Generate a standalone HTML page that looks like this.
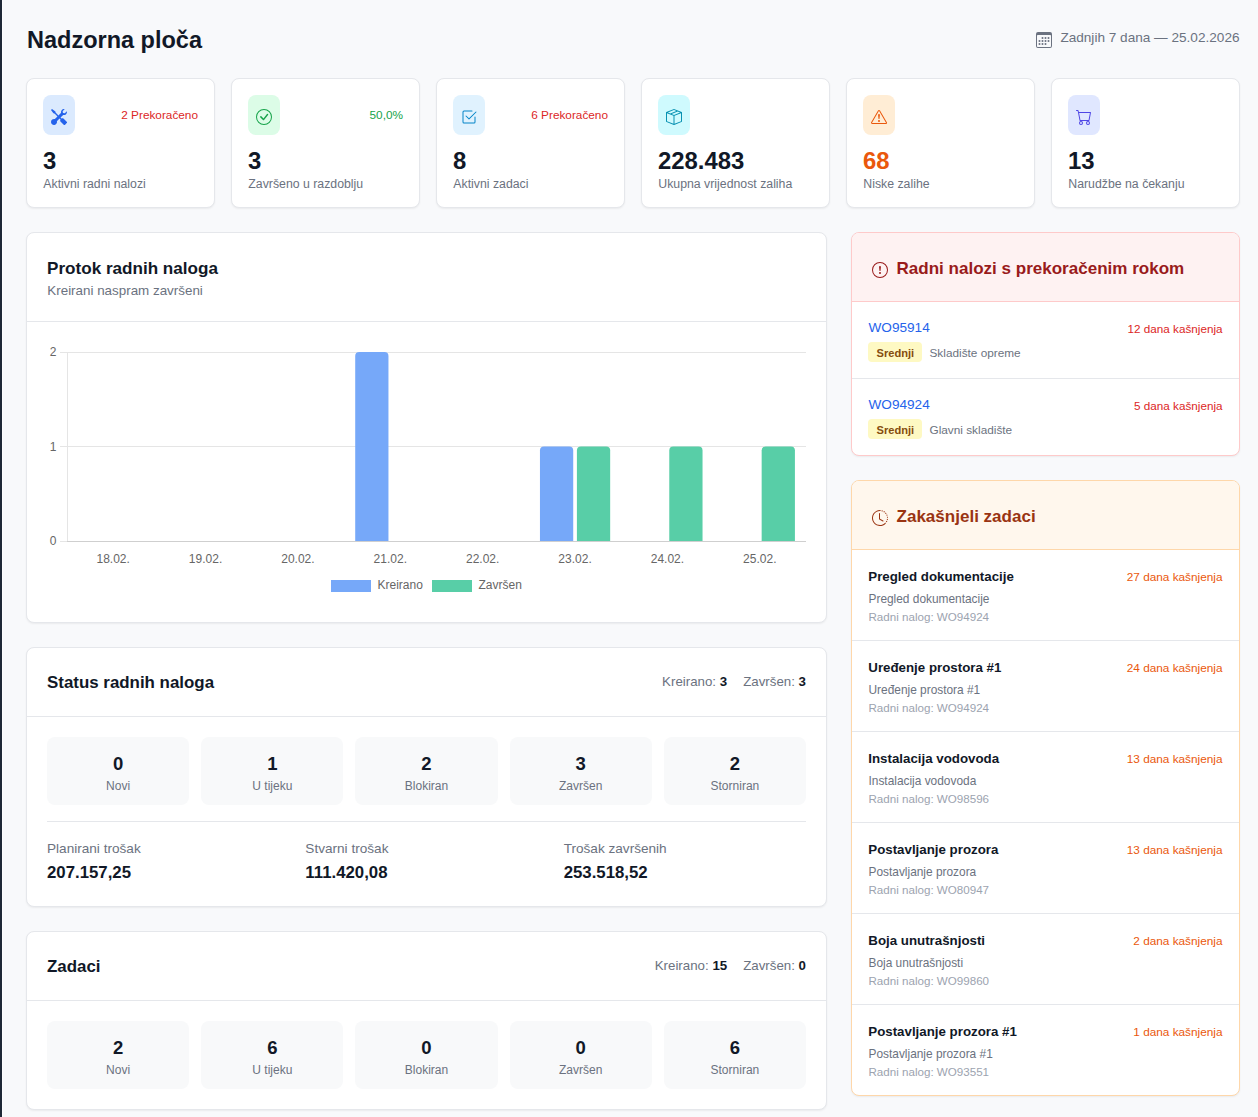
<!DOCTYPE html>
<html lang="hr">
<head>
<meta charset="utf-8">
<title>Nadzorna ploča</title>
<style>
*{box-sizing:border-box;margin:0;padding:0}
html,body{width:1258px;height:1117px;overflow:hidden}
body{background:#f8f9fb;font-family:"Liberation Sans",sans-serif;color:#111827;position:relative}
.abs{position:absolute}
.t{position:absolute;line-height:1;white-space:nowrap}
.card{position:absolute;background:#fff;border:1px solid #e5e7eb;border-radius:8px;box-shadow:0 1px 2px rgba(0,0,0,.06)}
</style>
</head>
<body>
<div class="abs" style="left:0;top:0;width:2px;height:1117px;background:#1e2836"></div>
<div class="abs" style="left:2px;top:0;width:1px;height:1117px;background:#fdfdfe"></div>
<div class="t" style="left:27.00px;top:29.11px;font-size:23.5px;font-weight:700;color:#111827;">Nadzorna ploča</div>
<svg class="abs" style="left:1036px;top:32px" width="16" height="16" viewBox="0 0 16 16" fill="#6b7280"><path d="M14 0H2a2 2 0 0 0-2 2v12a2 2 0 0 0 2 2h12a2 2 0 0 0 2-2V2a2 2 0 0 0-2-2M1 3.857C1 3.384 1.448 3 2 3h12c.552 0 1 .384 1 .857v10.286c0 .473-.448.857-1 .857H2c-.552 0-1-.384-1-.857z"/><path d="M6.5 7a1 1 0 1 0 0-2 1 1 0 0 0 0 2m3 0a1 1 0 1 0 0-2 1 1 0 0 0 0 2m3 0a1 1 0 1 0 0-2 1 1 0 0 0 0 2m-9 3a1 1 0 1 0 0-2 1 1 0 0 0 0 2m3 0a1 1 0 1 0 0-2 1 1 0 0 0 0 2m3 0a1 1 0 1 0 0-2 1 1 0 0 0 0 2m3 0a1 1 0 1 0 0-2 1 1 0 0 0 0 2m-9 3a1 1 0 1 0 0-2 1 1 0 0 0 0 2m3 0a1 1 0 1 0 0-2 1 1 0 0 0 0 2m3 0a1 1 0 1 0 0-2 1 1 0 0 0 0 2"/></svg>
<div class="t" style="right:18.50px;top:31.09px;font-size:13.6px;color:#6b7280;">Zadnjih 7 dana — 25.02.2026</div>
<div class="card" style="left:26px;top:78px;width:189px;height:130px"></div>
<div class="abs" style="left:43px;top:95px;width:32px;height:40px;border-radius:8px;background:#dbeafe"></div>
<svg class="abs" style="left:51px;top:109px" width="16" height="16" viewBox="0 0 16 16" fill="#2563eb"><path d="M1 0 0 1l2.2 3.081a1 1 0 0 0 .815.419h.07a1 1 0 0 1 .708.293l2.675 2.675-2.617 2.654A3.003 3.003 0 0 0 0 13a3 3 0 1 0 5.878-.851l2.654-2.617.968.968-.305.914a1 1 0 0 0 .242 1.023l3.27 3.27a.997.997 0 0 0 1.414 0l1.586-1.586a.997.997 0 0 0 0-1.414l-3.27-3.27a1 1 0 0 0-1.023-.242L10.5 9.5l-.96-.96 2.68-2.643A3.005 3.005 0 0 0 16 3q0-.405-.102-.777l-2.14 2.141L12 4l-.364-1.757L13.777.102a3 3 0 0 0-3.675 3.68L7.462 6.46 4.793 3.793a1 1 0 0 1-.293-.707v-.071a1 1 0 0 0-.419-.814z"/></svg>
<div class="t" style="right:1060.00px;top:110.21px;font-size:11.8px;color:#dc2626;">2 Prekoračeno</div>
<div class="t" style="left:43.00px;top:148.57px;font-size:23.9px;font-weight:700;color:#111827;">3</div>
<div class="t" style="left:43.30px;top:177.89px;font-size:12.3px;color:#6b7280;">Aktivni radni nalozi</div>
<div class="card" style="left:231px;top:78px;width:189px;height:130px"></div>
<div class="abs" style="left:248px;top:95px;width:32px;height:40px;border-radius:8px;background:#dcfce7"></div>
<svg class="abs" style="left:256px;top:109px" width="16" height="16" viewBox="0 0 16 16" fill="#16a34a"><path d="M8 15A7 7 0 1 1 8 1a7 7 0 0 1 0 14m0 1A8 8 0 1 0 8 0a8 8 0 0 0 0 16"/><path d="m10.97 4.97-.02.022-3.473 4.425-2.093-2.094a.75.75 0 0 0-1.06 1.06L6.97 11.03a.75.75 0 0 0 1.079-.02l3.992-4.99a.75.75 0 0 0-1.071-1.05"/></svg>
<div class="t" style="right:855.00px;top:110.21px;font-size:11.8px;color:#16a34a;">50,0%</div>
<div class="t" style="left:248.00px;top:148.57px;font-size:23.9px;font-weight:700;color:#111827;">3</div>
<div class="t" style="left:248.30px;top:177.89px;font-size:12.3px;color:#6b7280;">Završeno u razdoblju</div>
<div class="card" style="left:436px;top:78px;width:189px;height:130px"></div>
<div class="abs" style="left:453px;top:95px;width:32px;height:40px;border-radius:8px;background:#e0f2fe"></div>
<svg class="abs" style="left:461px;top:109px" width="16" height="16" viewBox="0 0 16 16" fill="#0284c7"><path d="M3 14.5A1.5 1.5 0 0 1 1.5 13V3A1.5 1.5 0 0 1 3 1.5h8a.5.5 0 0 1 0 1H3a.5.5 0 0 0-.5.5v10a.5.5 0 0 0 .5.5h10a.5.5 0 0 0 .5-.5V8a.5.5 0 0 1 1 0v5a1.5 1.5 0 0 1-1.5 1.5z"/><path d="m8.354 10.354 7-7a.5.5 0 0 0-.708-.708L8 9.293 5.354 6.646a.5.5 0 1 0-.708.708l3 3a.5.5 0 0 0 .708 0"/></svg>
<div class="t" style="right:650.00px;top:110.21px;font-size:11.8px;color:#dc2626;">6 Prekoračeno</div>
<div class="t" style="left:453.00px;top:148.57px;font-size:23.9px;font-weight:700;color:#111827;">8</div>
<div class="t" style="left:453.30px;top:177.89px;font-size:12.3px;color:#6b7280;">Aktivni zadaci</div>
<div class="card" style="left:641px;top:78px;width:189px;height:130px"></div>
<div class="abs" style="left:658px;top:95px;width:32px;height:40px;border-radius:8px;background:#cffafe"></div>
<svg class="abs" style="left:666px;top:109px" width="16" height="16" viewBox="0 0 16 16" fill="#0891b2"><path d="M8.186 1.113a.5.5 0 0 0-.372 0L1.846 3.5l2.404.961L10.404 2zm3.564 1.426L5.596 5 8 5.961 14.154 3.5zm3.25 1.7-6.5 2.6v7.922l6.5-2.6V4.24zM7.5 14.762V6.838L1 4.239v7.923zM7.443.184a1.5 1.5 0 0 1 1.114 0l7.129 2.852A.5.5 0 0 1 16 3.5v8.662a1 1 0 0 1-.629.928l-7.185 2.874a.5.5 0 0 1-.372 0L.63 13.09a1 1 0 0 1-.63-.928V3.5a.5.5 0 0 1 .314-.464z"/></svg>
<div class="t" style="left:658.00px;top:148.57px;font-size:23.9px;font-weight:700;color:#111827;">228.483</div>
<div class="t" style="left:658.30px;top:177.89px;font-size:12.3px;color:#6b7280;">Ukupna vrijednost zaliha</div>
<div class="card" style="left:846px;top:78px;width:189px;height:130px"></div>
<div class="abs" style="left:863px;top:95px;width:32px;height:40px;border-radius:8px;background:#ffedd5"></div>
<svg class="abs" style="left:871px;top:109px" width="16" height="16" viewBox="0 0 16 16" fill="#ea580c"><path d="M7.938 2.016A.13.13 0 0 1 8.002 2a.13.13 0 0 1 .063.016.15.15 0 0 1 .054.057l6.857 11.667c.036.06.035.124.002.183a.2.2 0 0 1-.054.06.1.1 0 0 1-.066.017H1.146a.1.1 0 0 1-.066-.017.2.2 0 0 1-.054-.06.18.18 0 0 1 .002-.183L7.884 2.073a.15.15 0 0 1 .054-.057m1.044-.45a1.13 1.13 0 0 0-1.96 0L.165 13.233c-.457.778.091 1.767.98 1.767h13.713c.889 0 1.438-.99.98-1.767z"/><path d="M7.002 12a1 1 0 1 1 2 0 1 1 0 0 1-2 0M7.1 5.995a.905.905 0 1 1 1.8 0l-.35 3.507a.552.552 0 0 1-1.1 0z"/></svg>
<div class="t" style="left:863.00px;top:148.57px;font-size:23.9px;font-weight:700;color:#ea580c;">68</div>
<div class="t" style="left:863.30px;top:177.89px;font-size:12.3px;color:#6b7280;">Niske zalihe</div>
<div class="card" style="left:1051px;top:78px;width:189px;height:130px"></div>
<div class="abs" style="left:1068px;top:95px;width:32px;height:40px;border-radius:8px;background:#e0e7ff"></div>
<svg class="abs" style="left:1076px;top:109px" width="16" height="16" viewBox="0 0 16 16" fill="#4f46e5"><path d="M0 1.5A.5.5 0 0 1 .5 1H2a.5.5 0 0 1 .485.379L2.89 3H14.5a.5.5 0 0 1 .491.592l-1.5 8A.5.5 0 0 1 13 12H4a.5.5 0 0 1-.491-.408L2.01 3.607 1.61 2H.5a.5.5 0 0 1-.5-.5M3.102 4l1.313 7h8.17l1.313-7zM5 12a2 2 0 1 0 0 4 2 2 0 0 0 0-4m7 0a2 2 0 1 0 0 4 2 2 0 0 0 0-4m-7 1a1 1 0 1 1 0 2 1 1 0 0 1 0-2m7 0a1 1 0 1 1 0 2 1 1 0 0 1 0-2"/></svg>
<div class="t" style="left:1068.00px;top:148.57px;font-size:23.9px;font-weight:700;color:#111827;">13</div>
<div class="t" style="left:1068.30px;top:177.89px;font-size:12.3px;color:#6b7280;">Narudžbe na čekanju</div>
<div class="card" style="left:26px;top:232px;width:801px;height:391px"></div>
<div class="abs" style="left:27px;top:321px;width:799px;height:1px;background:#e5e7eb"></div>
<div class="t" style="left:47.00px;top:259.82px;font-size:17.1px;font-weight:700;color:#111827;">Protok radnih naloga</div>
<div class="t" style="left:47.30px;top:284.26px;font-size:13.4px;color:#6b7280;">Kreirani naspram završeni</div>
<svg class="abs" style="left:0;top:0;font-family:'Liberation Sans',sans-serif" width="1258" height="1117"><line x1="60" y1="352.5" x2="806" y2="352.5" stroke="#e5e5e5" stroke-width="1"/><line x1="60" y1="446.5" x2="806" y2="446.5" stroke="#e5e5e5" stroke-width="1"/><line x1="60" y1="541.5" x2="67" y2="541.5" stroke="#e5e5e5" stroke-width="1"/><line x1="67" y1="541.5" x2="806" y2="541.5" stroke="#cfcfcf" stroke-width="1"/><line x1="67.5" y1="352" x2="67.5" y2="541" stroke="#e5e5e5" stroke-width="1"/><text x="56.5" y="356.3" text-anchor="end" font-size="12" fill="#666">2</text><text x="56.5" y="450.8" text-anchor="end" font-size="12" fill="#666">1</text><text x="56.5" y="545.3" text-anchor="end" font-size="12" fill="#666">0</text><text x="113.19" y="563" text-anchor="middle" font-size="12" fill="#666">18.02.</text><text x="205.56" y="563" text-anchor="middle" font-size="12" fill="#666">19.02.</text><text x="297.94" y="563" text-anchor="middle" font-size="12" fill="#666">20.02.</text><text x="390.31" y="563" text-anchor="middle" font-size="12" fill="#666">21.02.</text><text x="482.69" y="563" text-anchor="middle" font-size="12" fill="#666">22.02.</text><text x="575.06" y="563" text-anchor="middle" font-size="12" fill="#666">23.02.</text><text x="667.44" y="563" text-anchor="middle" font-size="12" fill="#666">24.02.</text><text x="759.81" y="563" text-anchor="middle" font-size="12" fill="#666">25.02.</text><path d="M355.21 541 L355.21 356.0 Q355.21 352.0 359.21 352.0 L384.46 352.0 Q388.46 352.0 388.46 356.0 L388.46 541 Z" fill="#76a8f9"/><path d="M539.96 541 L539.96 450.5 Q539.96 446.5 543.96 446.5 L569.22 446.5 Q573.22 446.5 573.22 450.5 L573.22 541 Z" fill="#76a8f9"/><path d="M576.91 541 L576.91 450.5 Q576.91 446.5 580.91 446.5 L606.17 446.5 Q610.17 446.5 610.17 450.5 L610.17 541 Z" fill="#58cea7"/><path d="M669.28 541 L669.28 450.5 Q669.28 446.5 673.28 446.5 L698.54 446.5 Q702.54 446.5 702.54 450.5 L702.54 541 Z" fill="#58cea7"/><path d="M761.66 541 L761.66 450.5 Q761.66 446.5 765.66 446.5 L790.92 446.5 Q794.92 446.5 794.92 450.5 L794.92 541 Z" fill="#58cea7"/><rect x="331" y="580" width="40" height="12" fill="#76a8f9"/><text x="377.5" y="589" font-size="12" fill="#666">Kreirano</text><rect x="432" y="580" width="40" height="12" fill="#58cea7"/><text x="478.5" y="589" font-size="12" fill="#666">Završen</text></svg>
<div class="card" style="left:26px;top:647px;width:801px;height:260px"></div>
<div class="abs" style="left:27px;top:716px;width:799px;height:1px;background:#e5e7eb"></div>
<div class="t" style="left:47.00px;top:675.49px;font-size:16.9px;font-weight:700;color:#111827;">Status radnih naloga</div>
<div class="t" style="right:452px;top:675.19px;font-size:13.3px;color:#6b7280">Kreirano: <b style="color:#111827">3</b><span style="display:inline-block;width:16px"></span>Završen: <b style="color:#111827">3</b></div>
<div class="abs" style="left:47.00px;top:737px;width:142.20px;height:68px;border-radius:8px;background:#f8f9fa"></div>
<div class="t" style="left:-181.90px;width:600px;text-align:center;top:754.84px;font-size:18.5px;font-weight:700;color:#111827;">0</div>
<div class="t" style="left:-181.90px;width:600px;text-align:center;top:779.84px;font-size:12px;color:#6b7280;">Novi</div>
<div class="abs" style="left:201.20px;top:737px;width:142.20px;height:68px;border-radius:8px;background:#f8f9fa"></div>
<div class="t" style="left:-27.70px;width:600px;text-align:center;top:754.84px;font-size:18.5px;font-weight:700;color:#111827;">1</div>
<div class="t" style="left:-27.70px;width:600px;text-align:center;top:779.84px;font-size:12px;color:#6b7280;">U tijeku</div>
<div class="abs" style="left:355.40px;top:737px;width:142.20px;height:68px;border-radius:8px;background:#f8f9fa"></div>
<div class="t" style="left:126.50px;width:600px;text-align:center;top:754.84px;font-size:18.5px;font-weight:700;color:#111827;">2</div>
<div class="t" style="left:126.50px;width:600px;text-align:center;top:779.84px;font-size:12px;color:#6b7280;">Blokiran</div>
<div class="abs" style="left:509.60px;top:737px;width:142.20px;height:68px;border-radius:8px;background:#f8f9fa"></div>
<div class="t" style="left:280.70px;width:600px;text-align:center;top:754.84px;font-size:18.5px;font-weight:700;color:#111827;">3</div>
<div class="t" style="left:280.70px;width:600px;text-align:center;top:779.84px;font-size:12px;color:#6b7280;">Završen</div>
<div class="abs" style="left:663.80px;top:737px;width:142.20px;height:68px;border-radius:8px;background:#f8f9fa"></div>
<div class="t" style="left:434.90px;width:600px;text-align:center;top:754.84px;font-size:18.5px;font-weight:700;color:#111827;">2</div>
<div class="t" style="left:434.90px;width:600px;text-align:center;top:779.84px;font-size:12px;color:#6b7280;">Storniran</div>
<div class="abs" style="left:47px;top:821px;width:759px;height:1px;background:#e5e7eb"></div>
<div class="t" style="left:47.00px;top:841.99px;font-size:13.6px;color:#6b7280;">Planirani trošak</div>
<div class="t" style="left:47.00px;top:865.28px;font-size:16.8px;font-weight:700;color:#111827;">207.157,25</div>
<div class="t" style="left:305.33px;top:841.99px;font-size:13.6px;color:#6b7280;">Stvarni trošak</div>
<div class="t" style="left:305.33px;top:865.28px;font-size:16.8px;font-weight:700;color:#111827;">111.420,08</div>
<div class="t" style="left:563.67px;top:841.99px;font-size:13.6px;color:#6b7280;">Trošak završenih</div>
<div class="t" style="left:563.67px;top:865.28px;font-size:16.8px;font-weight:700;color:#111827;">253.518,52</div>
<div class="card" style="left:26px;top:931px;width:801px;height:179px"></div>
<div class="abs" style="left:27px;top:1000px;width:799px;height:1px;background:#e5e7eb"></div>
<div class="t" style="left:47.00px;top:959.49px;font-size:16.9px;font-weight:700;color:#111827;">Zadaci</div>
<div class="t" style="right:452px;top:959.19px;font-size:13.3px;color:#6b7280">Kreirano: <b style="color:#111827">15</b><span style="display:inline-block;width:16px"></span>Završen: <b style="color:#111827">0</b></div>
<div class="abs" style="left:47.00px;top:1021px;width:142.20px;height:68px;border-radius:8px;background:#f8f9fa"></div>
<div class="t" style="left:-181.90px;width:600px;text-align:center;top:1038.84px;font-size:18.5px;font-weight:700;color:#111827;">2</div>
<div class="t" style="left:-181.90px;width:600px;text-align:center;top:1063.84px;font-size:12px;color:#6b7280;">Novi</div>
<div class="abs" style="left:201.20px;top:1021px;width:142.20px;height:68px;border-radius:8px;background:#f8f9fa"></div>
<div class="t" style="left:-27.70px;width:600px;text-align:center;top:1038.84px;font-size:18.5px;font-weight:700;color:#111827;">6</div>
<div class="t" style="left:-27.70px;width:600px;text-align:center;top:1063.84px;font-size:12px;color:#6b7280;">U tijeku</div>
<div class="abs" style="left:355.40px;top:1021px;width:142.20px;height:68px;border-radius:8px;background:#f8f9fa"></div>
<div class="t" style="left:126.50px;width:600px;text-align:center;top:1038.84px;font-size:18.5px;font-weight:700;color:#111827;">0</div>
<div class="t" style="left:126.50px;width:600px;text-align:center;top:1063.84px;font-size:12px;color:#6b7280;">Blokiran</div>
<div class="abs" style="left:509.60px;top:1021px;width:142.20px;height:68px;border-radius:8px;background:#f8f9fa"></div>
<div class="t" style="left:280.70px;width:600px;text-align:center;top:1038.84px;font-size:18.5px;font-weight:700;color:#111827;">0</div>
<div class="t" style="left:280.70px;width:600px;text-align:center;top:1063.84px;font-size:12px;color:#6b7280;">Završen</div>
<div class="abs" style="left:663.80px;top:1021px;width:142.20px;height:68px;border-radius:8px;background:#f8f9fa"></div>
<div class="t" style="left:434.90px;width:600px;text-align:center;top:1038.84px;font-size:18.5px;font-weight:700;color:#111827;">6</div>
<div class="t" style="left:434.90px;width:600px;text-align:center;top:1063.84px;font-size:12px;color:#6b7280;">Storniran</div>
<div class="abs" style="left:851px;top:232px;width:389px;height:224px;background:#fff;border:1px solid #fecaca;border-radius:8px;box-shadow:0 1px 2px rgba(0,0,0,.06);overflow:hidden"><div style="height:69px;background:#fef2f2;border-bottom:1px solid #fecaca"></div></div>
<svg class="abs" style="left:872px;top:262px" width="16" height="16" viewBox="0 0 16 16" fill="#991b1b"><path d="M8 15A7 7 0 1 1 8 1a7 7 0 0 1 0 14m0 1A8 8 0 1 0 8 0a8 8 0 0 0 0 16"/><path d="M7.002 11a1 1 0 1 1 2 0 1 1 0 0 1-2 0M7.1 4.995a.905.905 0 1 1 1.8 0l-.35 3.507a.552.552 0 0 1-1.1 0z"/></svg>
<div class="t" style="left:896.50px;top:259.57px;font-size:17.05px;font-weight:700;color:#991b1b;">Radni nalozi s prekoračenim rokom</div>
<div class="t" style="left:868.50px;top:321.49px;font-size:13.6px;color:#2563eb;">WO95914</div>
<div class="t" style="right:35.50px;top:322.70px;font-size:11.7px;color:#dc2626;">12 dana kašnjenja</div>
<div class="abs" style="left:868px;top:342px;width:54px;height:20px;border-radius:4px;background:#fef9c3"></div>
<div class="t" style="left:876.50px;top:347.60px;font-size:11.1px;font-weight:700;color:#854d0e;">Srednji</div>
<div class="t" style="left:929.50px;top:347.51px;font-size:11.8px;color:#6b7280;">Skladište opreme</div>
<div class="abs" style="left:852px;top:378px;width:387px;height:1px;background:#e5e7eb"></div>
<div class="t" style="left:868.50px;top:398.49px;font-size:13.6px;color:#2563eb;">WO94924</div>
<div class="t" style="right:35.50px;top:399.70px;font-size:11.7px;color:#dc2626;">5 dana kašnjenja</div>
<div class="abs" style="left:868px;top:419px;width:54px;height:20px;border-radius:4px;background:#fef9c3"></div>
<div class="t" style="left:876.50px;top:424.60px;font-size:11.1px;font-weight:700;color:#854d0e;">Srednji</div>
<div class="t" style="left:929.50px;top:424.51px;font-size:11.8px;color:#6b7280;">Glavni skladište</div>
<div class="abs" style="left:851px;top:480px;width:389px;height:616px;background:#fff;border:1px solid #fed7aa;border-radius:8px;box-shadow:0 1px 2px rgba(0,0,0,.06);overflow:hidden"><div style="height:69px;background:#fff7ed;border-bottom:1px solid #fed7aa"></div></div>
<svg class="abs" style="left:872px;top:510px" width="16" height="16" viewBox="0 0 16 16" fill="#9a3412"><path d="M8.515 1.019A7 7 0 0 0 8 1V0a8 8 0 0 1 .589.022zm2.004.45a7 7 0 0 0-.985-.299l.219-.976q.576.129 1.126.342zm1.37.71a7 7 0 0 0-.439-.27l.493-.87a8 8 0 0 1 .979.654l-.615.789a7 7 0 0 0-.418-.302zm1.834 1.79a7 7 0 0 0-.653-.796l.724-.69q.406.429.747.91zm.744 1.352a7 7 0 0 0-.214-.468l.893-.45a8 8 0 0 1 .45 1.088l-.95.313a7 7 0 0 0-.179-.483m.53 2.507a7 7 0 0 0-.1-1.025l.985-.17q.1.58.116 1.17zm-.131 1.538q.05-.254.081-.51l.993.123a8 8 0 0 1-.23 1.155l-.964-.267q.069-.247.12-.501m-.952 2.379q.276-.436.486-.908l.914.405q-.24.54-.555 1.038zm-.964 1.205q.183-.183.35-.378l.758.653a8 8 0 0 1-.401.432z"/><path d="M8 1a7 7 0 1 0 4.95 11.95l.707.707A8.001 8.001 0 1 1 8 0z"/><path d="M7.5 3a.5.5 0 0 1 .5.5v5.21l3.248 1.856a.5.5 0 0 1-.496.868l-3.5-2A.5.5 0 0 1 7 9V3.5a.5.5 0 0 1 .5-.5"/></svg>
<div class="t" style="left:896.50px;top:507.57px;font-size:17.05px;font-weight:700;color:#9a3412;">Zakašnjeli zadaci</div>
<div class="t" style="left:868.30px;top:569.74px;font-size:13.3px;font-weight:700;color:#111827;">Pregled dokumentacije</div>
<div class="t" style="right:35.50px;top:571.51px;font-size:11.8px;color:#ea580c;">27 dana kašnjenja</div>
<div class="t" style="left:868.50px;top:593.93px;font-size:11.9px;color:#6b7280;">Pregled dokumentacije</div>
<div class="t" style="left:868.50px;top:610.98px;font-size:11.6px;color:#9ca3af;">Radni nalog: WO94924</div>
<div class="abs" style="left:852px;top:640px;width:387px;height:1px;background:#e5e7eb"></div>
<div class="t" style="left:868.30px;top:660.74px;font-size:13.3px;font-weight:700;color:#111827;">Uređenje prostora #1</div>
<div class="t" style="right:35.50px;top:662.51px;font-size:11.8px;color:#ea580c;">24 dana kašnjenja</div>
<div class="t" style="left:868.50px;top:684.93px;font-size:11.9px;color:#6b7280;">Uređenje prostora #1</div>
<div class="t" style="left:868.50px;top:701.98px;font-size:11.6px;color:#9ca3af;">Radni nalog: WO94924</div>
<div class="abs" style="left:852px;top:731px;width:387px;height:1px;background:#e5e7eb"></div>
<div class="t" style="left:868.30px;top:751.74px;font-size:13.3px;font-weight:700;color:#111827;">Instalacija vodovoda</div>
<div class="t" style="right:35.50px;top:753.51px;font-size:11.8px;color:#ea580c;">13 dana kašnjenja</div>
<div class="t" style="left:868.50px;top:775.93px;font-size:11.9px;color:#6b7280;">Instalacija vodovoda</div>
<div class="t" style="left:868.50px;top:792.98px;font-size:11.6px;color:#9ca3af;">Radni nalog: WO98596</div>
<div class="abs" style="left:852px;top:822px;width:387px;height:1px;background:#e5e7eb"></div>
<div class="t" style="left:868.30px;top:842.74px;font-size:13.3px;font-weight:700;color:#111827;">Postavljanje prozora</div>
<div class="t" style="right:35.50px;top:844.51px;font-size:11.8px;color:#ea580c;">13 dana kašnjenja</div>
<div class="t" style="left:868.50px;top:866.93px;font-size:11.9px;color:#6b7280;">Postavljanje prozora</div>
<div class="t" style="left:868.50px;top:883.98px;font-size:11.6px;color:#9ca3af;">Radni nalog: WO80947</div>
<div class="abs" style="left:852px;top:913px;width:387px;height:1px;background:#e5e7eb"></div>
<div class="t" style="left:868.30px;top:933.74px;font-size:13.3px;font-weight:700;color:#111827;">Boja unutrašnjosti</div>
<div class="t" style="right:35.50px;top:935.51px;font-size:11.8px;color:#ea580c;">2 dana kašnjenja</div>
<div class="t" style="left:868.50px;top:957.93px;font-size:11.9px;color:#6b7280;">Boja unutrašnjosti</div>
<div class="t" style="left:868.50px;top:974.98px;font-size:11.6px;color:#9ca3af;">Radni nalog: WO99860</div>
<div class="abs" style="left:852px;top:1004px;width:387px;height:1px;background:#e5e7eb"></div>
<div class="t" style="left:868.30px;top:1024.74px;font-size:13.3px;font-weight:700;color:#111827;">Postavljanje prozora #1</div>
<div class="t" style="right:35.50px;top:1026.51px;font-size:11.8px;color:#ea580c;">1 dana kašnjenja</div>
<div class="t" style="left:868.50px;top:1048.93px;font-size:11.9px;color:#6b7280;">Postavljanje prozora #1</div>
<div class="t" style="left:868.50px;top:1065.98px;font-size:11.6px;color:#9ca3af;">Radni nalog: WO93551</div>
</body>
</html>
